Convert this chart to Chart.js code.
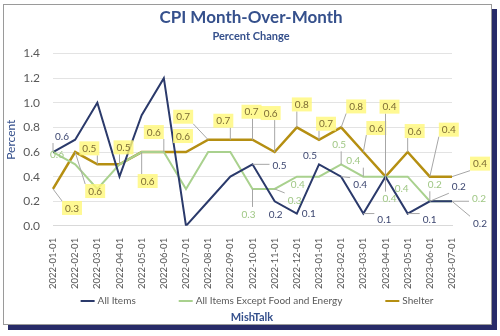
<!DOCTYPE html>
<html>
<head>
<meta charset="utf-8">
<script src="https://cdn.jsdelivr.net/npm/chart.js@4"></script>
<style>
    html, body { margin: 0; padding: 0; background: #fff; }
    #wrap { position: relative; width: 500px; height: 336px; overflow: hidden; }
    #card {
        position: absolute; left: 3px; top: 4px; width: 487px; height: 319px;
        background: #fff; border: 1px solid #9a9a9a;
        box-shadow: 5px 5px 0 #272b68;
    }
    #chart { position: absolute; left: 0; top: 0; }
</style>
</head>
<body>
<div id="wrap">
    <div id="card"></div>
    <canvas id="chart" width="500" height="336"></canvas>
</div>
<script>
// Months on the x axis.
const months = [
    "2022-01-01", "2022-02-01", "2022-03-01", "2022-04-01", "2022-05-01", "2022-06-01",
    "2022-07-01", "2022-08-01", "2022-09-01", "2022-10-01", "2022-11-01", "2022-12-01",
    "2023-01-01", "2023-02-01", "2023-03-01", "2023-04-01", "2023-05-01", "2023-06-01",
    "2023-07-01",
];

// Month-over-month percent change.
const allItems = [0.6, 0.7, 1.0, 0.4, 0.9, 1.2, 0.0, 0.2, 0.4, 0.5, 0.2, 0.1, 0.5, 0.4, 0.1, 0.4, 0.1, 0.2, 0.2];
const coreItems = [0.6, 0.5, 0.3, 0.5, 0.6, 0.6, 0.3, 0.6, 0.6, 0.3, 0.3, 0.4, 0.4, 0.5, 0.4, 0.4, 0.4, 0.2, 0.2];
const shelter = [0.3, 0.6, 0.5, 0.5, 0.6, 0.6, 0.6, 0.7, 0.7, 0.7, 0.6, 0.8, 0.7, 0.8, 0.6, 0.4, 0.6, 0.4, 0.4];

const NAVY = "#2b3a6b";
const GREEN = "#a9d18e";
const GOLD = "#b58f12";
const TITLE = "#35508c";
const FONT = "Lato, 'Open Sans', sans-serif";

// Where the data labels sit, as [dx, dy] from their point (null = no label).
// Excel scattered these by hand, so they are placed per point.
const labelSpots = [
    [[9, -16], null, null, null, null, null, null, null, null, [27, 1], [1, 13], [12, 0],
     [-9, -9], [19, 8], [21, 6], null, [22, 6], [29, -15], [28, 22]],
    [[4, 2], null, null, null, null, null, null, null, null, [-4, 25], [20, 11], [1, 8],
     null, [-2, -20], [-10, -16], [4, 22], [-6, 12], [5, -17], [27, -3]],
    [[19, 19], [20, 39], [-8, -16], [4, -17], [6, 29], [-10, -20], [-3, -16], [-25, -23], [-7, -19],
     [-1, -28], [-4, -39], [5, -23], [7, -16], [15, -21], [13, -24], [4, -70], [7, -21], [19, -47], [28, -13]],
];
const labelStyles = [
    { color: "#3c4670", box: null },
    { color: "#9fc784", box: null },
    { color: "#7d6c34", box: "rgba(255, 247, 120, 0.8)" },
];

const dataLabels = {
    id: "dataLabels",
    afterDatasetsDraw(chart) {
        const ctx = chart.ctx;
        ctx.save();
        ctx.font = "10px " + FONT;
        ctx.textAlign = "center";
        ctx.textBaseline = "middle";
        chart.data.datasets.forEach((ds, d) => {
            const meta = chart.getDatasetMeta(d);
            const style = labelStyles[d];
            labelSpots[d].forEach((spot, i) => {
                if (!spot) return;
                const pt = meta.data[i];
                const x = pt.x + spot[0];
                const y = pt.y + spot[1];
                const text = ds.data[i].toFixed(1);
                const w = ctx.measureText(text).width;
                const left = x - w / 2 - 3, right = x + w / 2 + 3;
                const top = y - 7, bottom = y + 7;
                if (Math.hypot(spot[0], spot[1]) > 17) {
                    const tx = Math.min(Math.max(pt.x, left), right);
                    const ty = Math.min(Math.max(pt.y, top), bottom);
                    ctx.strokeStyle = "#a6a6a6";
                    ctx.lineWidth = 1;
                    ctx.beginPath();
                    ctx.moveTo(pt.x, pt.y);
                    ctx.lineTo(tx, ty);
                    ctx.stroke();
                }
                if (style.box) {
                    ctx.fillStyle = style.box;
                    ctx.fillRect(left, top, right - left, bottom - top);
                }
                ctx.fillStyle = style.color;
                ctx.fillText(text, x, y + 0.5);
            });
        });
        ctx.restore();
    },
};

// Legend with wide gaps plus the "MishTalk" line under it.
const footer = {
    id: "footer",
    afterDraw(chart) {
        const ctx = chart.ctx;
        ctx.save();
        ctx.textBaseline = "middle";

        ctx.font = "10px " + FONT;
        const gap = 43, swatch = 14, space = 3;
        const items = chart.data.datasets.map((ds) => ({
            text: ds.label,
            color: ds.borderColor,
            w: swatch + space + ctx.measureText(ds.label).width,
        }));
        const total = items.reduce((s, it) => s + it.w, 0) + gap * (items.length - 1);
        let x = 257 - total / 2;
        const y = 301;
        items.forEach((it) => {
            ctx.fillStyle = it.color;
            ctx.fillRect(x, y - 1, swatch, 2);
            ctx.fillStyle = "#595959";
            ctx.textAlign = "left";
            ctx.fillText(it.text, x + swatch + space, y);
            x += it.w + gap;
        });

        ctx.font = "bold 11px " + FONT;
        ctx.fillStyle = TITLE;
        ctx.textAlign = "center";
        ctx.fillText("MishTalk", 252, 317);
        ctx.restore();
    },
};

function line(label, data, color, width) {
    return {
        label: label,
        data: data,
        borderColor: color,
        backgroundColor: color,
        borderWidth: width,
        pointRadius: 0,
        tension: 0,
    };
}

new Chart(document.getElementById("chart"), {
    type: "line",
    data: {
        labels: months,
        datasets: [
            line("All Items", allItems, NAVY, 2),
            line("All Items Except Food and Energy", coreItems, GREEN, 2),
            line("Shelter", shelter, GOLD, 2.5),
        ],
    },
    options: {
        responsive: false,
        animation: false,
        layout: { padding: { left: 4, right: 2, top: 0, bottom: 43 } },
        scales: {
            x: {
                grid: { display: false },
                border: { color: "#d9d9d9" },
                ticks: {
                    color: "#595959",
                    font: { family: FONT, size: 9.5 },
                    minRotation: 90,
                    maxRotation: 90,
                    autoSkip: false,
                    padding: 4,
                },
            },
            y: {
                min: 0,
                max: 1.4,
                grid: { color: "#e3e3e3", drawTicks: false },
                border: { display: false },
                afterFit: (s) => { s.width = 49; },
                ticks: {
                    stepSize: 0.2,
                    padding: 13,
                    color: "#595959",
                    font: { family: FONT, size: 12 },
                    callback: (v) => v.toFixed(1),
                },
                title: {
                    display: true,
                    text: "Percent",
                    color: TITLE,
                    font: { family: FONT, size: 12 },
                    padding: 0,
                },
            },
            // empty right-hand axis: only keeps room for the outside labels
            y2: {
                position: "right",
                grid: { display: false },
                border: { display: false },
                ticks: { display: false },
                afterFit: (s) => { s.width = 46; },
            },
        },
        plugins: {
            title: {
                display: true,
                text: "CPI Month-Over-Month",
                color: TITLE,
                font: { family: FONT, size: 17, weight: "bold" },
                padding: { top: 7, bottom: 2 },
            },
            subtitle: {
                display: true,
                text: "Percent Change",
                color: TITLE,
                font: { family: FONT, size: 11, weight: "bold" },
                padding: { top: 0, bottom: 11 },
            },
            legend: { display: false },
            tooltip: { enabled: false },
        },
    },
    plugins: [dataLabels, footer],
});
</script>
</body>
</html>
